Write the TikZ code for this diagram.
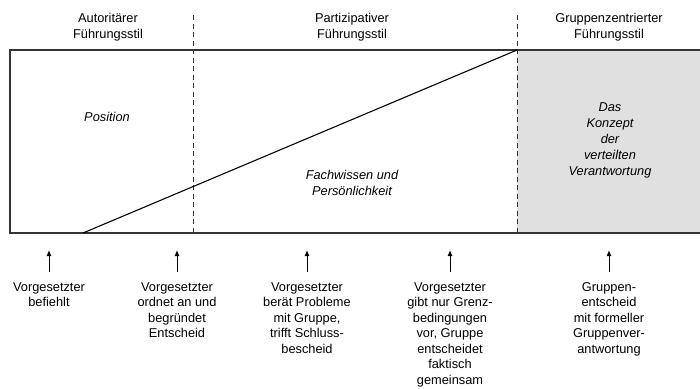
\documentclass[tikz,border=0pt]{standalone}
\usepackage{fontspec}
\setmainfont{Liberation Sans}
\usetikzlibrary{arrows.meta}
\definecolor{linec}{HTML}{333333}
\definecolor{grayfill}{HTML}{E0E0E0}
\begin{document}
\begin{tikzpicture}[x=1pt,y=-1pt,
  lbl/.style={align=center,font=\fontsize{12.8}{15.5}\selectfont,inner sep=0pt},
  itl/.style={align=center,font=\fontsize{12.8}{16}\selectfont\itshape,inner sep=0pt},
  frame/.style={draw=linec,line width=1.2pt},
  dline/.style={draw=linec,line width=0.9pt,dash pattern=on 5pt off 3.5pt},
  uparrow/.style={draw=black,line width=1pt,-{Latex[length=6pt,width=5pt]}}]
\useasboundingbox (0,0) rectangle (700,388);
\fill[grayfill] (517,50) rectangle (702,233);
\draw[frame] (702,50) -- (10,50) -- (10,233) -- (702,233);
\coordinate (dl1t) at (193,15);
\coordinate (dl1b) at (193,233);
\coordinate (dl2t) at (517,15);
\coordinate (dl2b) at (517,233);
\draw[dline] (dl1t) -- (dl1b);
\draw[dline] (dl2t) -- (dl2b);
\coordinate (ds) at (83,233);
\coordinate (de) at (517,50);
\draw[draw=black,line width=1.1pt] (ds) -- (de);
\node[lbl] (h1) at (108,27) {Autoritärer\\Führungsstil};
\node[lbl] (h2) at (352,27) {Partizipativer\\Führungsstil};
\node[lbl] (h3) at (609,27) {Gruppenzentrierter\\Führungsstil};
\node[itl] (p1) at (107,117) {Position};
\node[itl] (p2) at (352,183) {Fachwissen und\\Persönlichkeit};
\node[itl] (p3) at (610,140) {Das\\Konzept\\der\\verteilten\\Verantwortung};
\node[lbl,anchor=north] (t1) at (49,282) {Vorgesetzter\\befiehlt};
\node[lbl,anchor=north] (t2) at (177,282) {Vorgesetzter\\ordnet an und\\begründet\\Entscheid};
\node[lbl,anchor=north] (t3) at (307,282) {Vorgesetzter\\berät Probleme\\mit Gruppe,\\trifft Schluss-\\bescheid};
\node[lbl,anchor=north] (t4) at (450,282) {Vorgesetzter\\gibt nur Grenz-\\bedingungen\\vor, Gruppe\\entscheidet\\faktisch\\gemeinsam};
\node[lbl,anchor=north] (t5) at (609,282) {Gruppen-\\entscheid\\mit formeller\\Gruppenver-\\antwortung};
\foreach \n in {t1,t2,t3,t4,t5}{
  \draw[uparrow] ([yshift=10pt]\n.north) -- ++(0,-22);
}
\end{tikzpicture}
\end{document}
